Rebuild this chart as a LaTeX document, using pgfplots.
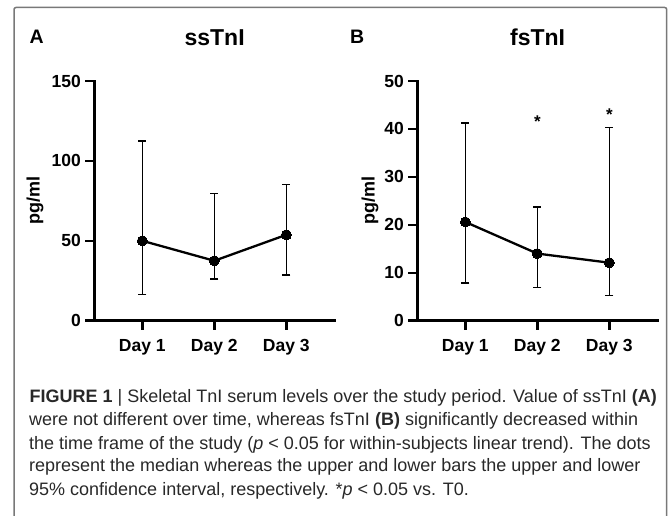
\documentclass[border=0pt]{standalone}
\usepackage{fontspec}
\setmainfont{Liberation Sans}
\usepackage{pgfplots}
\pgfplotsset{compat=1.18}
\definecolor{framegray}{RGB}{120,120,120}
\definecolor{captext}{RGB}{40,40,40}
\pgfplotsset{
  panel/.style={
    scale only axis, width=240.7pt, height=239.7pt, anchor=south west,
    xmin=0.3333, xmax=3.676, ymin=0,
    axis lines=left,
    axis line style={-, line width=2.5pt, black, line cap=rect},
    xtick={1,2,3}, xticklabels={Day 1,Day 2,Day 3},
    tick align=outside, major tick length=9pt,
    tick style={line width=2.5pt, black},
    /pgf/number format/assume math mode=true,
    ticklabel style={font=\fontsize{17.5}{20}\selectfont\bfseries},
    xticklabel style={yshift=-6.5pt},
    yticklabel style={xshift=-1pt},
    title style={at={(axis description cs:0.5,1.1222)}, anchor=base, font=\fontsize{23}{26}\selectfont\bfseries},
    ylabel={pg/ml},
    ylabel style={anchor=center, font=\fontsize{18}{20}\selectfont\bfseries},
    clip=false,
  },
  dataline/.style={black, line width=2.3pt, mark=*, mark size=5pt,
    mark options={solid, fill=black, draw=black, line width=0pt},
    error bars/.cd, y dir=both, y explicit, error mark=|,
    error bar style={line width=1.5pt, black},
    error mark options={line width=1.5pt, mark size=4pt, black}},
}
\begin{document}
\begin{tikzpicture}[x=1pt,y=1pt]
\useasboundingbox (0,0) rectangle (669,515);
\draw[framegray, line width=1.5pt, rounded corners=2pt] (14,-20) -- (14,507.5) -- (666.7,507.5) -- (666.7,-20);

\node[anchor=base west, inner sep=0pt, font=\fontsize{19.5}{22}\selectfont\bfseries] at (29.3,471.7) {A};
\node[anchor=base west, inner sep=0pt, font=\fontsize{19.5}{22}\selectfont\bfseries] at (350,471.7) {B};

\begin{axis}[panel, at={(94.3pt,194.3pt)}, ymax=150, ytick={0,50,100,150},
  title={ssTnI},
  ylabel style={at={(axis description cs:-0.2464,0.5)}}]
\addplot+[dataline] coordinates {
  (1,50.0)  += (0,62.3)  -= (0,33.5)
  (2,37.5)  += (0,42.1)  -= (0,11.25)
  (3,53.75) += (0,31.45) -= (0,25.0)
};
\end{axis}

\begin{axis}[panel, at={(417.3pt,194.3pt)}, ymax=50, ytick={0,10,20,30,40,50},
  title={fsTnI},
  ylabel style={at={(axis description cs:-0.1965,0.5)}}]
\addplot+[dataline] coordinates {
  (1,20.6) += (0,20.6)  -= (0,12.75)
  (2,14.0) += (0,9.75)  -= (0,7.1)
  (3,12.1) += (0,28.25) -= (0,6.8)
};
\node[anchor=base, inner sep=0pt, font=\fontsize{17}{20}\selectfont\bfseries] at (axis cs:2,40.28) {*};
\node[anchor=base, inner sep=0pt, font=\fontsize{17}{20}\selectfont\bfseries] at (axis cs:3,41.74) {*};
\end{axis}

\begin{scope}[every node/.style={anchor=base west, inner sep=0pt, text=captext, font=\fontsize{18}{23}\selectfont}]
\node at (29.5,112.3) {\textbf{FIGURE 1} | Skeletal TnI serum levels over the study period. Value of ssTnI \textbf{(A)}};
\node at (29.0,89.3) {were not different over time, whereas fsTnI \textbf{(B)} significantly decreased within};
\node at (29.0,66.0) {the time frame of the study (\textit{p} < 0.05 for within-subjects linear trend). The dots};
\node at (29.0,43.3) {represent the median whereas the upper and lower bars the upper and lower};
\node at (29.0,20.0) {95\% confidence interval, respectively. *\textit{p} < 0.05 vs. T0.};
\end{scope}
\end{tikzpicture}
\end{document}
